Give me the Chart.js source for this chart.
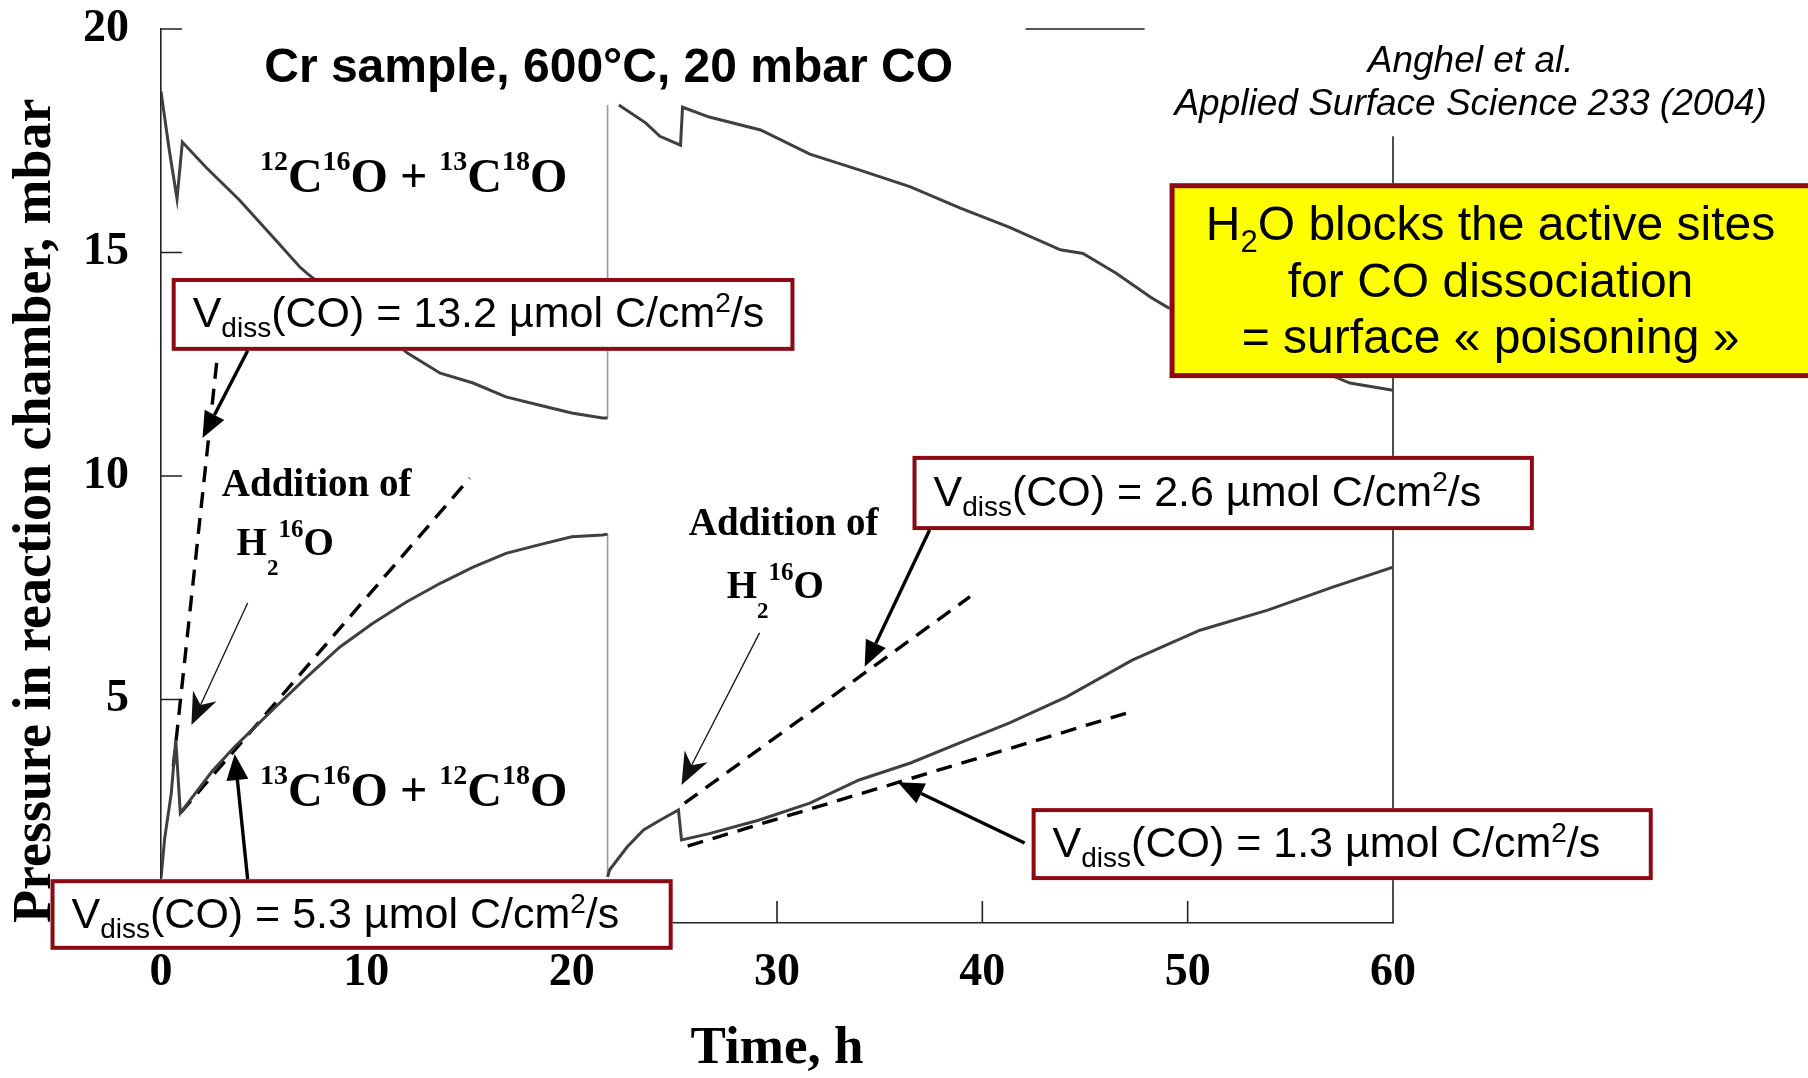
<!DOCTYPE html>
<html><head><meta charset="utf-8">
<script src="https://cdn.jsdelivr.net/npm/chart.js@4.4.1/dist/chart.umd.min.js"></script>
<style>html,body{margin:0;padding:0;background:#fff;overflow:hidden}canvas{display:block}</style>
</head><body>
<canvas id="c" width="1808" height="1078" style="width:1808px;height:1078px"></canvas>
<script>
// ---------- data ----------
const upperTime1 = [0, 0.4, 0.78, 1.04, 2.2, 3.83, 5.44, 6.75, 7.1, 12.0, 13.6, 15.2, 16.8, 18.4, 20.0, 21.5, 21.75];
const upperP1    = [18.6, 17.3, 16.2, 17.47, 16.9, 16.17, 15.35, 14.68, 14.54, 12.75, 12.3, 12.08, 11.77, 11.59, 11.41, 11.3, 11.3];
const upperTime2 = [22.3, 23.6, 24.3, 25.3, 25.4, 26.7, 29.2, 31.6, 34.0, 36.5, 38.9, 41.3, 43.8, 44.9, 46.5, 48.2, 49.0, 57.9, 60];
const upperP2    = [18.3, 17.9, 17.6, 17.4, 18.25, 18.03, 17.74, 17.2, 16.85, 16.47, 16.0, 15.57, 15.06, 14.98, 14.54, 14.0, 13.78, 12.08, 11.92];
const lowerTime1 = [0, 0.18, 0.5, 0.72, 0.94, 1.5, 2.5, 3.6, 4.5, 5.44, 7.1, 8.7, 10.3, 11.95, 13.6, 15.2, 16.8, 18.4, 20.0, 21.5, 21.75];
const lowerP1    = [1.0, 1.9, 2.9, 4.1, 2.46, 2.8, 3.4, 3.95, 4.35, 4.77, 5.5, 6.17, 6.7, 7.18, 7.6, 7.96, 8.27, 8.46, 8.64, 8.68, 8.7];
const lowerTime2 = [21.75, 21.85, 22.7, 23.5, 24.3, 25.2, 25.35, 26.7, 29.1, 31.6, 34.0, 36.5, 38.9, 41.3, 44.1, 47.3, 50.6, 53.9, 57.1, 60];
const lowerP2    = [1.03, 1.19, 1.7, 2.08, 2.3, 2.53, 1.86, 2.0, 2.3, 2.68, 3.2, 3.58, 4.03, 4.47, 5.06, 5.88, 6.55, 7.0, 7.52, 7.96];
const jumpTime   = [21.75, 21.75];
const upperJump  = [11.3, 18.3];
const lowerJump  = [8.7, 1.03];
// tangent (dashed) lines: [start, end]
const tan132Time = [0.6, 2.75];  const tan132P = [3.5, 12.7];
const tan53Time  = [0.94, 15.03]; const tan53P  = [2.46, 9.95];
const tan26Time  = [25.5, 39.4];  const tan26P  = [2.68, 7.3];
const tan13Time  = [25.65, 47.2]; const tan13P  = [1.72, 4.72];
// axes
const xTicks = [0, 10, 20, 30, 40, 50, 60];
const yTicks = [5, 10, 15, 20];
const rates = ['13.2', '5.3', '2.6', '1.3'];

const pts = (xs, ys) => xs.map((x, i) => ({x, y: ys[i]}));

const SANS = '"Liberation Sans", Arial, sans-serif';
const SERIF = '"Liberation Serif", "Times New Roman", serif';
const RED = '#8b0a14';

function curve(xs, ys){ return {data: pts(xs, ys), borderColor: '#3f3f3f', borderWidth: 3, pointRadius: 0, fill: false}; }
function jump(xs, ys){ return {data: pts(xs, ys), borderColor: '#9a9a9a', borderWidth: 1.6, pointRadius: 0, fill: false}; }
function dash(xs, ys){ return {data: pts(xs, ys), borderColor: '#000', borderWidth: 3.4, borderDash: [16, 10], pointRadius: 0, fill: false}; }

function richW(ctx, parts){ let w = 0; for (const p of parts){ ctx.font = p.f; w += ctx.measureText(p.t).width; } return w; }
function drawRich(ctx, parts, x, y, align){
  let cx = align === 'center' ? x - richW(ctx, parts) / 2 : x;
  ctx.textAlign = 'left'; ctx.textBaseline = 'alphabetic';
  for (const p of parts){ ctx.font = p.f; ctx.fillText(p.t, cx, y + (p.dy || 0)); cx += ctx.measureText(p.t).width; }
}
function arrow(ctx, x1, y1, x2, y2, lw, hl, hw, notch, color){
  const a = Math.atan2(y2 - y1, x2 - x1), c = Math.cos(a), s = Math.sin(a);
  ctx.save(); ctx.strokeStyle = color; ctx.fillStyle = color; ctx.lineWidth = lw; ctx.setLineDash([]);
  ctx.beginPath(); ctx.moveTo(x1, y1); ctx.lineTo(x2 - c * (hl - notch) , y2 - s * (hl - notch)); ctx.stroke();
  ctx.beginPath(); ctx.moveTo(x2, y2);
  ctx.lineTo(x2 - c * hl - s * hw, y2 - s * hl + c * hw);
  ctx.lineTo(x2 - c * (hl - notch), y2 - s * (hl - notch));
  ctx.lineTo(x2 - c * hl + s * hw, y2 - s * hl - c * hw);
  ctx.closePath(); ctx.fill(); ctx.restore();
}
const vdiss = v => [
  {t: 'V', f: '43px ' + SANS},
  {t: 'diss', f: '28px ' + SANS, dy: 10},
  {t: '(CO) = ' + v + ' µmol C/cm', f: '43px ' + SANS},
  {t: '2', f: '28px ' + SANS, dy: -15},
  {t: '/s', f: '43px ' + SANS}
];
const iso = (a, b, c, d) => [
  {t: a, f: 'bold 28px ' + SERIF, dy: -22}, {t: 'C', f: 'bold 48px ' + SERIF},
  {t: b, f: 'bold 28px ' + SERIF, dy: -22}, {t: 'O + ', f: 'bold 48px ' + SERIF},
  {t: c, f: 'bold 28px ' + SERIF, dy: -22}, {t: 'C', f: 'bold 48px ' + SERIF},
  {t: d, f: 'bold 28px ' + SERIF, dy: -22}, {t: 'O', f: 'bold 48px ' + SERIF}
];
const h2o = [
  {t: 'H', f: 'bold 39px ' + SERIF}, {t: '2', f: 'bold 23px ' + SERIF, dy: 20},
  {t: '16', f: 'bold 25px ' + SERIF, dy: -18}, {t: 'O', f: 'bold 39px ' + SERIF}
];

const annot = {
  id: 'annot',
  beforeDatasetsDraw(chart){
    const {ctx, scales: {x, y}} = chart;
    const X = v => x.getPixelForValue(v), Y = v => y.getPixelForValue(v);
    ctx.save(); ctx.strokeStyle = '#222'; ctx.lineWidth = 1.6;
    ctx.beginPath();
    // right frame and the visible piece of the top frame
    ctx.moveTo(X(60), Y(0)); ctx.lineTo(X(60), Y(17.6));
    ctx.moveTo(X(42.1), Y(20)); ctx.lineTo(X(47.9), Y(20));
    // inward ticks
    for (const t of yTicks){ ctx.moveTo(X(0), Y(t)); ctx.lineTo(X(0) + 21, Y(t)); }
    for (const t of xTicks.slice(1, -1)){ ctx.moveTo(X(t), Y(0)); ctx.lineTo(X(t), Y(0) - 22); }
    ctx.stroke(); ctx.restore();
  },
  afterDatasetsDraw(chart){
    const {ctx, scales: {x, y}} = chart;
    const X = v => x.getPixelForValue(v), Y = v => y.getPixelForValue(v);
    ctx.save();
    ctx.fillStyle = '#000';
    // title + reference
    ctx.font = 'bold 48px ' + SANS; ctx.textAlign = 'center'; ctx.textBaseline = 'alphabetic';
    ctx.fillText('Cr sample, 600°C, 20 mbar CO', X(21.8), Y(18.81));
    ctx.font = 'italic 37px ' + SANS;
    ctx.fillText('Anghel et al.', X(63.78), Y(19.04));
    ctx.fillText('Applied Surface Science 233 (2004)', X(63.78), Y(18.08));
    // isotope labels
    drawRich(ctx, iso('12', '16', '13', '18'), X(12.3), Y(16.35), 'center');
    drawRich(ctx, iso('13', '16', '12', '18'), X(12.3), Y(2.62), 'center');
    // addition of water
    ctx.font = 'bold 39px ' + SERIF; ctx.textAlign = 'center';
    ctx.fillText('Addition of', X(7.58), Y(9.55));
    ctx.fillText('Addition of', X(30.32), Y(8.68));
    drawRich(ctx, h2o, X(3.68), Y(8.23), 'left');
    drawRich(ctx, h2o, X(27.55), Y(7.27), 'left');
    arrow(ctx, X(4.22), Y(7.16), X(1.48), Y(4.43), 1.3, 32, 13, 10, '#111');
    arrow(ctx, X(29.15), Y(6.49), X(25.35), Y(3.09), 1.3, 32, 13, 10, '#111');
    // boxes
    const boxes = [
      {x0: 0.52, x1: 30.85, y0: 14.43, y1: 12.80, r: rates[0]},
      {x0: -5.38, x1: 24.92, y0: 0.98, y1: -0.60, r: rates[1]},
      {x0: 36.6, x1: 66.86, y0: 10.45, y1: 8.79, r: rates[2]},
      {x0: 42.4, x1: 72.65, y0: 2.57, y1: 0.96, r: rates[3]}
    ];
    for (const b of boxes){
      const l = X(b.x0), r = X(b.x1), t = Y(b.y0), bt = Y(b.y1);
      ctx.fillStyle = '#fff'; ctx.fillRect(l, t, r - l, bt - t);
      ctx.strokeStyle = RED; ctx.lineWidth = 4; ctx.strokeRect(l + 2, t + 2, r - l - 4, bt - t - 4);
      ctx.fillStyle = '#000';
      drawRich(ctx, vdiss(b.r), l + 21, (t + bt) / 2 + 13, 'left');
    }
    // yellow box
    {
      const l = X(49.12), r = X(81.3), t = Y(16.55), bt = Y(12.19);
      ctx.fillStyle = '#ffff00'; ctx.fillRect(l, t, r - l, bt - t);
      ctx.strokeStyle = RED; ctx.lineWidth = 5; ctx.strokeRect(l + 2.5, t + 2.5, r - l - 5, bt - t - 5);
      ctx.fillStyle = '#000';
      drawRich(ctx, [{t: 'H', f: '48px ' + SANS}, {t: '2', f: '31px ' + SANS, dy: 12}, {t: 'O blocks the active sites', f: '48px ' + SANS}], X(64.75), Y(15.28), 'center');
      ctx.font = '48px ' + SANS; ctx.textAlign = 'center'; ctx.textBaseline = 'alphabetic';
      ctx.fillText('for CO dissociation', X(64.75), Y(14.0));
      ctx.fillText('= surface « poisoning »', X(64.75), Y(12.75));
    }
    // thick arrows from the boxes
    arrow(ctx, X(4.22), Y(12.80), X(2.02), Y(10.85), 3.4, 26, 11, 0, '#000');
    arrow(ctx, X(4.22), Y(0.98), X(3.59), Y(3.78), 3.4, 26, 11, 0, '#000');
    arrow(ctx, X(37.43), Y(8.79), X(34.27), Y(5.73), 3.4, 26, 11, 0, '#000');
    arrow(ctx, X(42.06), Y(1.79), X(35.88), Y(3.15), 3.4, 26, 11, 0, '#000');
    ctx.restore();
  }
};

new Chart(document.getElementById('c'), {
  type: 'line',
  data: {
    datasets: [
      curve(upperTime1, upperP1), curve(upperTime2, upperP2),
      curve(lowerTime1, lowerP1), curve(lowerTime2, lowerP2),
      jump(jumpTime, upperJump), jump(jumpTime, lowerJump),
      dash(tan132Time, tan132P), dash(tan53Time, tan53P),
      dash(tan26Time, tan26P), dash(tan13Time, tan13P)
    ]
  },
  plugins: [annot],
  options: {
    responsive: false, animation: false, devicePixelRatio: 1,
    layout: {padding: {top: 29, right: 415, bottom: 0, left: 0}},
    plugins: {legend: {display: false}, tooltip: {enabled: false}, title: {display: false}},
    elements: {line: {tension: 0}, point: {radius: 0}},
    scales: {
      x: {
        type: 'linear', min: 0, max: 60,
        afterFit: s => { s.height = 155; s.paddingLeft = 0; s.paddingRight = 0; },
        afterBuildTicks: s => { s.ticks = xTicks.map(v => ({value: v})); },
        grid: {display: false, drawTicks: false},
        border: {display: true, color: '#222', width: 1.6},
        ticks: {padding: 23, color: '#000', font: {family: SERIF, weight: 'bold', size: 46}},
        title: {display: true, text: 'Time, h', color: '#000', padding: {top: 0, bottom: 2},
                font: {family: SERIF, weight: 'bold', size: 53, lineHeight: 1}}
      },
      y: {
        type: 'linear', min: 0, max: 20,
        afterFit: s => { s.width = 161; s.paddingTop = 0; s.paddingBottom = 0; },
        afterBuildTicks: s => { s.ticks = yTicks.map(v => ({value: v})); },
        grid: {display: false, drawTicks: false},
        border: {display: true, color: '#222', width: 1.6},
        ticks: {padding: 32, color: '#000', font: {family: SERIF, weight: 'bold', size: 46}},
        title: {display: true, text: 'Pressure in reaction chamber, mbar', color: '#000', align: 'start',
                padding: {top: 9, bottom: 0}, font: {family: SERIF, weight: 'bold', size: 54, lineHeight: 1}}
      }
    }
  }
});
</script>
</body></html>
